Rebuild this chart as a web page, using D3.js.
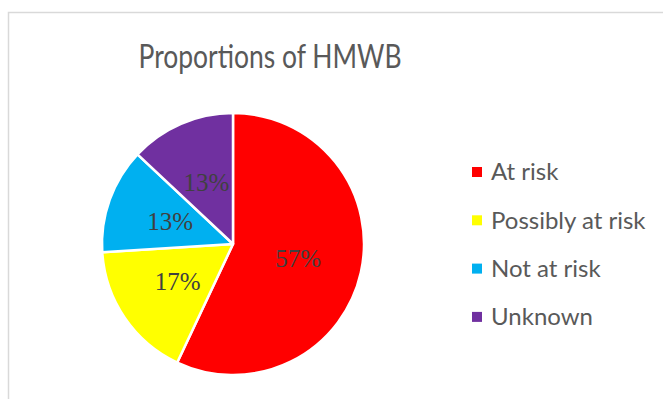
<!DOCTYPE html>
<html>
<head>
<meta charset="utf-8">
<script src="https://cdn.jsdelivr.net/npm/d3@7"></script>
<style>
  html, body { margin: 0; padding: 0; background: #fff; }
  svg { display: block; }
</style>
</head>
<body>
<svg id="chart" width="663" height="399"></svg>
<script>
// Status categories of heavily modified water bodies and their shares (%)
const categories = ["At risk", "Possibly at risk", "Not at risk", "Unknown"];
const values = [57, 17, 13, 13];
const colors = ["#ff0000", "#ffff00", "#00b0f0", "#7030a0"];
const title = "Proportions of HMWB";

const svg = d3.select("#chart");
const W = 663, H = 399;

// Chart area frame (continues past the right and bottom edges)
svg.append("rect")
  .attr("x", 8.5).attr("y", 12.5)
  .attr("width", W + 20).attr("height", H + 20)
  .attr("fill", "#fff")
  .attr("stroke", "#d9d9d9")
  .attr("stroke-width", 1.5);

// Title
svg.append("text")
  .attr("x", 270).attr("y", 68)
  .attr("text-anchor", "middle")
  .attr("font-family", "Lato, 'Open Sans', sans-serif")
  .attr("font-size", 32)
  .attr("textLength", 263)
  .attr("lengthAdjust", "spacingAndGlyphs")
  .attr("fill", "#595959")
  .text(title);

// Pie
const cx = 233, cy = 244, R = 131;
const data = categories.map((c, i) => ({ name: c, value: values[i], color: colors[i] }));
const pie = d3.pie().sort(null).value(d => d.value);
const arcs = pie(data);
const arc = d3.arc().innerRadius(0).outerRadius(R);
const labelArc = d3.arc().innerRadius(R * 0.51).outerRadius(R * 0.51);

const g = svg.append("g").attr("transform", `translate(${cx},${cy})`);
g.selectAll("path.slice")
  .data(arcs)
  .join("path")
  .attr("class", "slice")
  .attr("d", arc)
  .attr("fill", d => d.data.color)
  .attr("stroke", "#fff")
  .attr("stroke-width", 2.5)
  .attr("stroke-linejoin", "round");

g.selectAll("text.pct")
  .data(arcs)
  .join("text")
  .attr("class", "pct")
  .attr("transform", d => `translate(${labelArc.centroid(d)})`)
  .attr("text-anchor", "middle")
  .attr("dy", "0.35em")
  .attr("font-family", "'Liberation Serif', 'DejaVu Serif', serif")
  .attr("font-size", 25)
  .attr("fill", "#404040")
  .text(d => d.data.value + "%");

// Legend
const legend = svg.append("g").attr("transform", "translate(472,172)");
const rows = legend.selectAll("g.item")
  .data(data)
  .join("g")
  .attr("class", "item")
  .attr("transform", (d, i) => `translate(0,${i * 48.3})`);
rows.append("rect")
  .attr("x", 0).attr("y", -5)
  .attr("width", 10).attr("height", 10)
  .attr("fill", d => d.color);
rows.append("text")
  .attr("x", 19).attr("y", 0)
  .attr("dy", "0.35em")
  .attr("font-family", "Lato, 'Open Sans', sans-serif")
  .attr("font-size", 24)
  .attr("fill", "#595959")
  .text(d => d.name);
</script>
</body>
</html>
